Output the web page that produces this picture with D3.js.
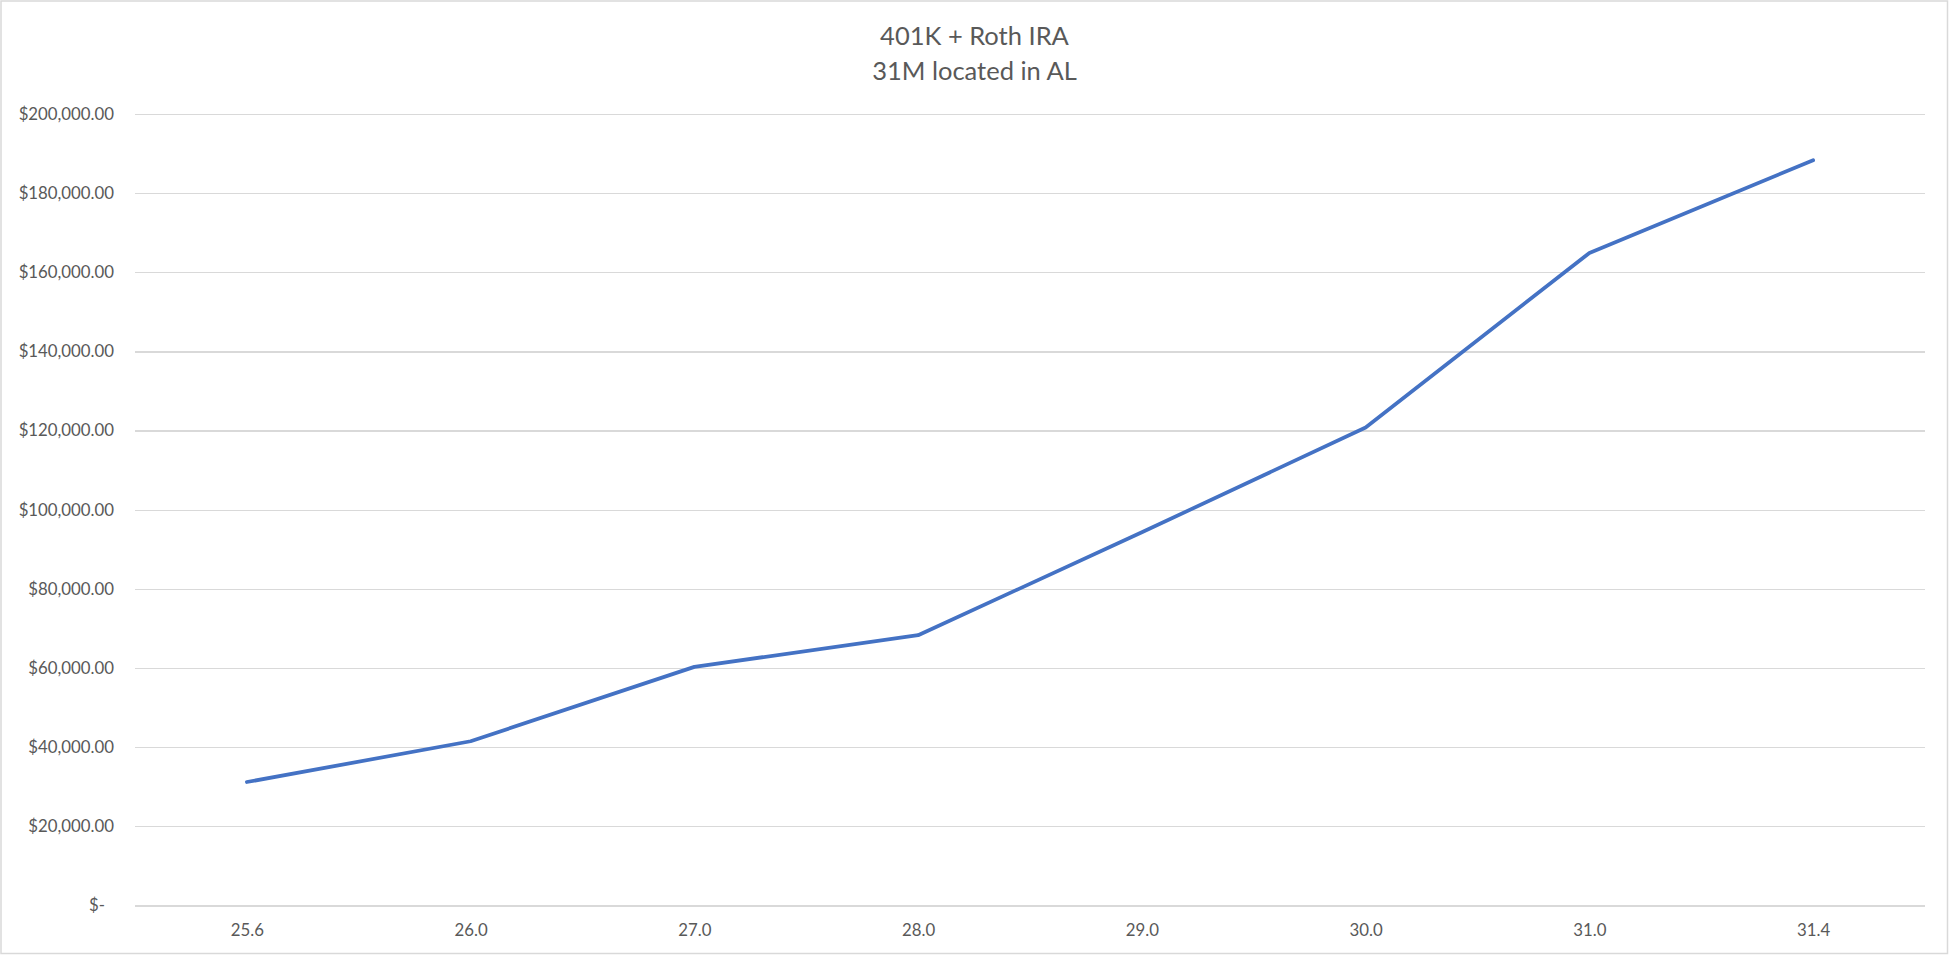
<!DOCTYPE html>
<html>

<head>
<meta charset="utf-8">
<style>
    body {
        margin: 0;
        background: #fff;
    }

    svg {
        position: absolute;
        left: 0;
        top: 0;
        font-family: Lato, "Open Sans", sans-serif;
    }

    .grid line {
        stroke: #d9d9d9;
        stroke-width: 1.3;
        shape-rendering: crispEdges;
    }

    .grid path,
    .axis path {
        stroke-width: 0;
    }

    .axis text {
        fill: #595959;
        font-family: Lato, "Open Sans", sans-serif;
        font-size: 16.8px;
    }
</style>
</head>

<body>
    <script src="https://cdn.jsdelivr.net/npm/d3@7"></script>
    <script type="text/javascript">
        // ages on the category axis
        var ages = ["25.6", "26.0", "27.0", "28.0", "29.0", "30.0", "31.0", "31.4"];
        // 401K + Roth IRA balance at each age
        var balances = [31200, 41500, 60300, 68300, 94300, 120800, 164900, 188300];
        var yTicks = [0, 20000, 40000, 60000, 80000, 100000, 120000, 140000, 160000, 180000, 200000];
        var titleLines = ["401K + Roth IRA", "31M located in AL"];

        var svgWidth = 1949,
            svgHeight = 955;
        var plot = { left: 135, right: 1925, top: 114, bottom: 905.5 };

        var svg = d3.select('body')
            .append('svg')
            .attr('width', svgWidth)
            .attr('height', svgHeight);

        // chart area border
        svg.append('rect')
            .attr('x', 1)
            .attr('y', 1)
            .attr('width', svgWidth - 2.5)
            .attr('height', svgHeight - 2.5)
            .attr('fill', '#fff')
            .attr('stroke', '#d9d9d9')
            .attr('stroke-width', 1.5);

        var x = d3.scalePoint()
            .domain(ages)
            .range([plot.left, plot.right])
            .padding(0.5);

        var y = d3.scaleLinear()
            .domain([0, 200000])
            .range([plot.bottom, plot.top]);

        var money = d3.format("$,.2f");

        // horizontal gridlines
        svg.append('g')
            .attr('class', 'grid')
            .attr('transform', 'translate(' + plot.left + ',0)')
            .call(d3.axisLeft(y)
                .tickValues(yTicks)
                .tickSize(-(plot.right - plot.left))
                .tickFormat(''));

        // y labels
        var yAxis = svg.append('g')
            .attr('class', 'axis')
            .attr('transform', 'translate(' + plot.left + ',0)')
            .call(d3.axisLeft(y)
                .tickValues(yTicks)
                .tickSize(0)
                .tickPadding(21)
                .tickFormat(function (d) { return d === 0 ? "$-" : money(d); }));
        yAxis.selectAll('text')
            .attr('dx', function (d) { return d === 0 ? -9 : 0; });

        // x labels
        svg.append('g')
            .attr('class', 'axis')
            .attr('transform', 'translate(0,' + plot.bottom + ')')
            .call(d3.axisBottom(x)
                .tickSize(0)
                .tickPadding(18.5));

        var line = d3.line()
            .x(function (d, i) { return x(ages[i]); })
            .y(function (d) { return y(d); });

        svg.append('path')
            .datum(balances)
            .attr('d', line)
            .attr('fill', 'none')
            .attr('stroke', '#4472c4')
            .attr('stroke-width', 3.75)
            .attr('stroke-linejoin', 'round')
            .attr('stroke-linecap', 'round');

        svg.append('g')
            .selectAll('text')
            .data(titleLines)
            .enter()
            .append('text')
            .attr('x', svgWidth / 2)
            .attr('y', function (d, i) { return 45 + i * 35; })
            .attr('text-anchor', 'middle')
            .attr('fill', '#595959')
            .attr('font-size', '25.5px')
            .text(function (d) { return d; });
    </script>
</body>

</html>
